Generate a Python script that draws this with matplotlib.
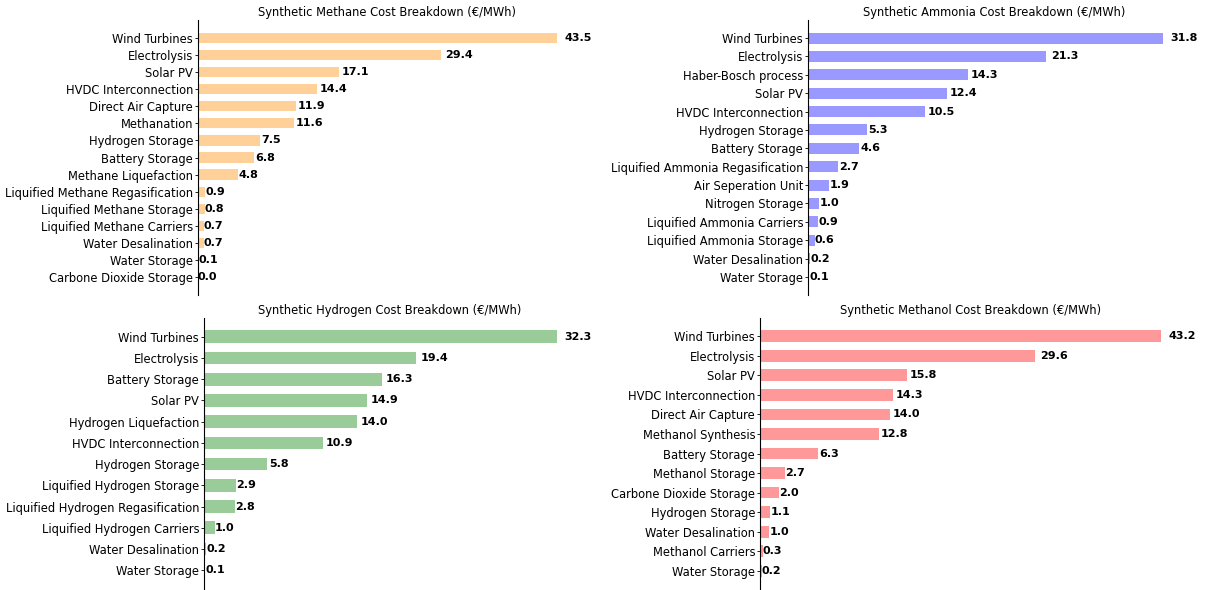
import matplotlib.pyplot as plt

# Cost components (€/MWh), largest first
methane_labels = ['Wind Turbines', 'Electrolysis', 'Solar PV', 'HVDC Interconnection',
                  'Direct Air Capture', 'Methanation', 'Hydrogen Storage', 'Battery Storage',
                  'Methane Liquefaction', 'Liquified Methane Regasification',
                  'Liquified Methane Storage', 'Liquified Methane Carriers',
                  'Water Desalination', 'Water Storage', 'Carbone Dioxide Storage']
methane_values = [43.5, 29.4, 17.1, 14.4, 11.9, 11.6, 7.5, 6.8, 4.8, 0.9, 0.8, 0.7, 0.7, 0.1, 0.0]

ammonia_labels = ['Wind Turbines', 'Electrolysis', 'Haber-Bosch process', 'Solar PV',
                  'HVDC Interconnection', 'Hydrogen Storage', 'Battery Storage',
                  'Liquified Ammonia Regasification', 'Air Seperation Unit', 'Nitrogen Storage',
                  'Liquified Ammonia Carriers', 'Liquified Ammonia Storage',
                  'Water Desalination', 'Water Storage']
ammonia_values = [31.8, 21.3, 14.3, 12.4, 10.5, 5.3, 4.6, 2.7, 1.9, 1.0, 0.9, 0.6, 0.2, 0.1]

hydrogen_labels = ['Wind Turbines', 'Electrolysis', 'Battery Storage', 'Solar PV',
                   'Hydrogen Liquefaction', 'HVDC Interconnection', 'Hydrogen Storage',
                   'Liquified Hydrogen Storage', 'Liquified Hydrogen Regasification',
                   'Liquified Hydrogen Carriers', 'Water Desalination', 'Water Storage']
hydrogen_values = [32.3, 19.4, 16.3, 14.9, 14.0, 10.9, 5.8, 2.9, 2.8, 1.0, 0.2, 0.1]

methanol_labels = ['Wind Turbines', 'Electrolysis', 'Solar PV', 'HVDC Interconnection',
                   'Direct Air Capture', 'Methanol Synthesis', 'Battery Storage',
                   'Methanol Storage', 'Carbone Dioxide Storage', 'Hydrogen Storage',
                   'Water Desalination', 'Methanol Carriers', 'Water Storage']
methanol_values = [43.2, 29.6, 15.8, 14.3, 14.0, 12.8, 6.3, 2.7, 2.0, 1.1, 1.0, 0.3, 0.2]

fs = 8.3

fig = plt.figure(figsize=(12.06, 5.9), dpi=100)


def cost_panel(rect, labels, values, color, title):
    ax = fig.add_axes(rect)
    bars = ax.barh(labels, values, height=0.6, color=color, alpha=0.4)
    ax.invert_yaxis()
    for b, v in zip(bars, values):
        ax.text(v * 1.02, b.get_y() + b.get_height() / 2, f'{v:.1f}',
                va='center', ha='left', fontsize=8, fontweight='bold')
    ax.set_title(title, fontsize=fs, pad=3)
    ax.tick_params(axis='y', labelsize=fs, length=2.5, width=0.6, pad=1)
    ax.set_xticks([])
    for s in ['top', 'right', 'bottom']:
        ax.spines[s].set_visible(False)
    return ax


W, H = 1206, 590
cost_panel([198 / W, 1 - 295 / H, (575 - 198) / W, 275 / H],
           methane_labels, methane_values, 'darkorange',
           'Synthetic Methane Cost Breakdown (€/MWh)')
cost_panel([808 / W, 1 - 295 / H, (1181 - 808) / W, 275 / H],
           ammonia_labels, ammonia_values, 'blue',
           'Synthetic Ammonia Cost Breakdown (€/MWh)')
cost_panel([204 / W, 1 - 589 / H, (575 - 204) / W, 271 / H],
           hydrogen_labels, hydrogen_values, 'green',
           'Synthetic Hydrogen Cost Breakdown (€/MWh)')
cost_panel([760 / W, 1 - 589 / H, (1181 - 760) / W, 271 / H],
           methanol_labels, methanol_values, 'red',
           'Synthetic Methanol Cost Breakdown (€/MWh)')

fig.savefig('out.png', dpi=100)
